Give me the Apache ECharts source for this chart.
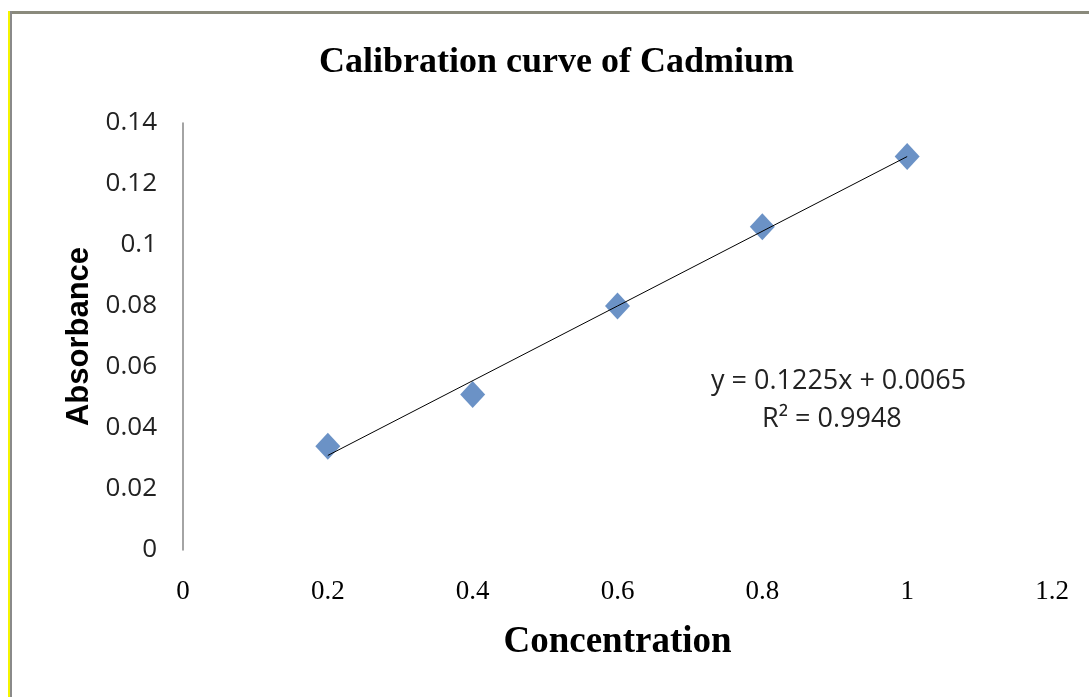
<!DOCTYPE html>
<html>
<head>
<meta charset="utf-8">
<title>Calibration curve of Cadmium</title>
<script src="https://cdn.jsdelivr.net/npm/echarts@6/dist/echarts.min.js"></script>
<style>
  html, body { margin: 0; padding: 0; background: #fff; }
  #chart { width: 1089px; height: 697px; }
</style>
</head>
<body>
<div id="chart"></div>
<script>
// values
var concentration = [0.2, 0.4, 0.6, 0.8, 1.0]
var absorbance = [0.034, 0.051, 0.080, 0.106, 0.129]
// linear trend line end points (y = 0.1225x + 0.0065)
var trendX = [0.2, 1.0]
var trendY = [0.031, 0.129]
var equationText = ['y = 0.1225x + 0.0065', 'R\u00b2 = 0.9948']

var points = concentration.map(function (x, i) { return [x, absorbance[i]] })
var trend = trendX.map(function (x, i) { return [x, trendY[i]] })

var myChart = echarts.init(document.getElementById('chart'))
var option = {
  backgroundColor: '#fff',
  animation: false,
  title: {
    text: 'Calibration curve of Cadmium',
    left: 314,
    top: 40,
    textStyle: {
      fontFamily: 'Liberation Serif',
      fontWeight: 'bold',
      fontSize: 36,
      color: '#000'
    }
  },
  grid: {
    left: 183,
    right: 37,
    top: 123,
    bottom: 147
  },
  xAxis: {
    type: 'value',
    min: 0,
    max: 1.2,
    interval: 0.2,
    name: 'Concentration',
    nameLocation: 'middle',
    nameGap: 74,
    nameTextStyle: {
      fontFamily: 'Liberation Serif',
      fontWeight: 'bold',
      fontSize: 37,
      color: '#000'
    },
    axisLine: { show: false },
    axisTick: { show: false },
    splitLine: { show: false },
    axisLabel: {
      margin: 28,
      fontFamily: 'Liberation Serif',
      fontSize: 27,
      color: '#000'
    }
  },
  yAxis: {
    type: 'value',
    min: 0,
    max: 0.14,
    interval: 0.02,
    name: 'Absorbance',
    nameLocation: 'middle',
    nameGap: 74,
    nameRotate: 90,
    nameTextStyle: {
      fontFamily: 'Liberation Sans',
      fontWeight: 'bold',
      fontSize: 31,
      color: '#000'
    },
    axisLine: {
      show: true,
      lineStyle: { color: '#868686', width: 1.5 }
    },
    axisTick: { show: false },
    splitLine: { show: false },
    axisLabel: {
      margin: 26,
      fontFamily: 'Open Sans',
      fontSize: 26,
      color: '#222'
    }
  },
  graphic: [
    // picture frame: grey top and left edge with yellow stripe
    { type: 'rect', shape: { x: 10, y: 11, width: 1079, height: 3 }, style: { fill: '#8a8a7c' } },
    { type: 'rect', shape: { x: 8, y: 11, width: 2, height: 686 }, style: { fill: '#f5f500' } },
    { type: 'rect', shape: { x: 10, y: 11, width: 2, height: 686 }, style: { fill: '#8a8a8a' } },
    {
      type: 'text',
      left: 711,
      top: 368,
      style: {
        text: equationText[0],
        fontFamily: 'Open Sans',
        fontSize: 27,
        fill: '#222'
      }
    },
    {
      type: 'text',
      left: 762,
      top: 406,
      style: {
        text: equationText[1],
        fontFamily: 'Open Sans',
        fontSize: 27,
        fill: '#222'
      }
    }
  ],
  series: [
    {
      name: 'Trend',
      type: 'line',
      data: trend,
      symbol: 'none',
      lineStyle: { color: '#000', width: 1 },
      z: 3
    },
    {
      name: 'Absorbance',
      type: 'scatter',
      data: points,
      symbol: 'diamond',
      symbolSize: [25, 27],
      itemStyle: { color: '#4677b8' },
      z: 2
    }
  ]
}
myChart.setOption(option, true)
</script>
</body>
</html>
